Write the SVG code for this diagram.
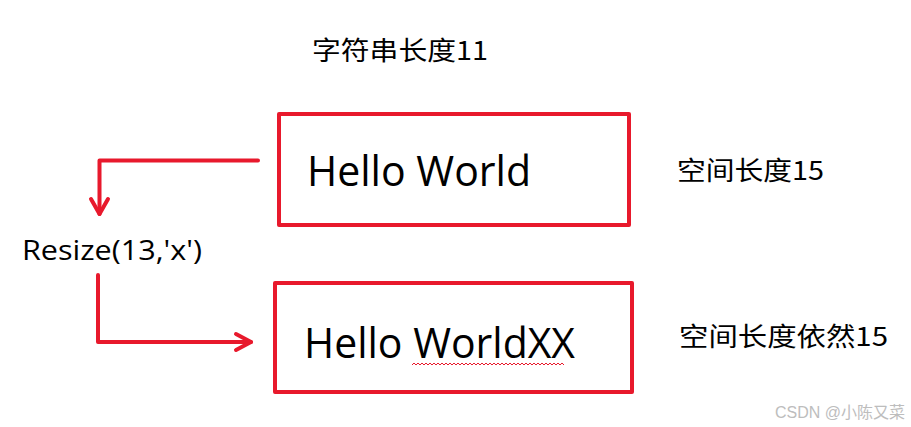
<svg xmlns="http://www.w3.org/2000/svg" width="911" height="427" viewBox="0 0 911 427">
<style>
.box{fill:none;stroke:#e8192c;stroke-width:4;stroke-linejoin:round}
.con{fill:none;stroke:#e8192c;stroke-width:4;stroke-linecap:round;stroke-linejoin:round}
.lat{font-family:"Open Sans","Noto Sans",sans-serif;fill:#000}
.cjk{font-family:"Noto Sans CJK SC","Noto Sans",sans-serif;fill:#000;font-size:26px}
</style>
<rect width="911" height="427" fill="#fff"/>
<g id="title"><text class="cjk" x="312" y="60" textLength="176" lengthAdjust="spacingAndGlyphs">字符串长度11</text></g>
<g id="box1">
<rect class="box" x="279" y="114" width="350" height="111"/>
<text class="lat" x="307" y="186" font-size="42" textLength="224" lengthAdjust="spacingAndGlyphs">Hello World</text>
</g>
<g id="label1"><text class="cjk" x="677" y="180" textLength="147" lengthAdjust="spacingAndGlyphs">空间长度15</text></g>
<g id="resize"><text class="lat" x="22" y="260" font-size="28" textLength="180" lengthAdjust="spacingAndGlyphs">Resize(13,'x')</text></g>
<g id="box2">
<rect class="box" x="275" y="283" width="357" height="109"/>
<text class="lat" x="304" y="358" font-size="42" textLength="271" lengthAdjust="spacingAndGlyphs">Hello WorldXX</text>
<path d="M412 365 l2 -2 l2 2 l2 -2 l2 2 l2 -2 l2 2 l2 -2 l2 2 l2 -2 l2 2 l2 -2 l2 2 l2 -2 l2 2 l2 -2 l2 2 l2 -2 l2 2 l2 -2 l2 2 l2 -2 l2 2 l2 -2 l2 2 l2 -2 l2 2 l2 -2 l2 2 l2 -2 l2 2 l2 -2 l2 2 l2 -2 l2 2 l2 -2 l2 2 l2 -2 l2 2 l2 -2 l2 2 l2 -2 l2 2 l2 -2 l2 2 l2 -2 l2 2 l2 -2 l2 2 l2 -2 l2 2 l2 -2 l2 2 l2 -2 l2 2 l2 -2 l2 2 l2 -2 l2 2 l2 -2 l2 2 l2 -2 l2 2 l2 -2 l2 2 l2 -2 l2 2 l2 -2 l2 2 l2 -2 l2 2 l2 -2 l2 2 l2 -2 l2 2 l2 -2 l2 2" fill="none" stroke="#e8192c" stroke-width="1"/>
</g>
<g id="label2"><text class="cjk" x="679" y="346" textLength="209" lengthAdjust="spacingAndGlyphs">空间长度依然15</text></g>
<g id="connectors">
<path class="con" d="M258 160.5 H99.5 V214"/>
<path class="con" d="M91 199 L99.5 214 L108 199"/>
<path class="con" d="M98 275 V342 H251"/>
<path class="con" d="M236 334 L251 342 L236 350"/>
</g>
<text x="905" y="418" text-anchor="end" font-family="Liberation Sans,Noto Sans CJK SC,sans-serif" font-size="16" fill="#bdbdbd">CSDN @小陈又菜</text>
</svg>
